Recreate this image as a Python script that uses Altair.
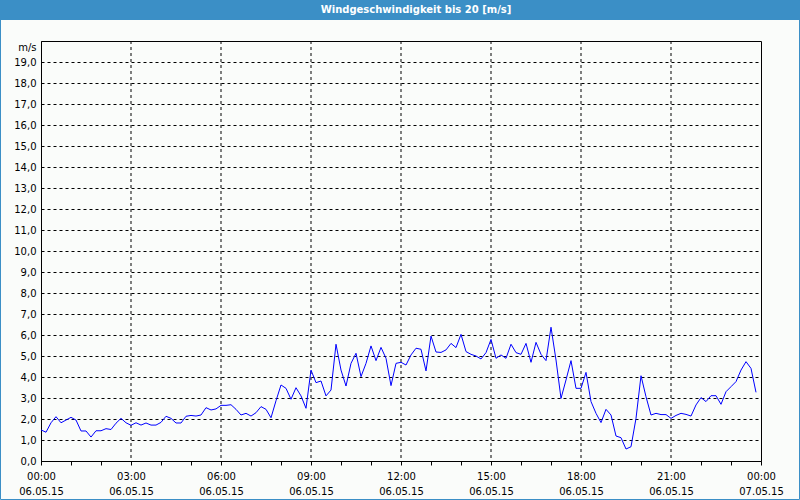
import altair as alt
import pandas as pd

TITLE = "Windgeschwindigkeit bis 20 [m/s]"
UNIT = "m/s"

# wind speed (m/s), one reading every 10 minutes from 06.05.15 00:00 to 23:50
speed_00_06 = [1.48, 1.37, 1.82, 2.11, 1.82, 1.95, 2.08, 1.95, 1.43, 1.43, 1.14, 1.44,
               1.44, 1.54, 1.50, 1.80, 2.03, 1.82, 1.70, 1.82, 1.71, 1.81, 1.71, 1.71,
               1.84, 2.13, 2.03, 1.81, 1.81, 2.13, 2.17, 2.14, 2.19, 2.54, 2.43, 2.48, 2.65]
speed_06_12 = [2.65, 2.68, 2.46, 2.19, 2.27, 2.14, 2.30, 2.59, 2.46, 2.06, 2.87, 3.62,
               3.46, 2.94, 3.49, 3.10, 2.51, 4.33, 3.73, 3.81, 3.10, 3.38, 5.56, 4.33,
               3.57, 4.65, 5.13, 4.02, 4.65, 5.48, 4.78, 5.41, 4.89, 3.59, 4.65, 4.70]
speed_12_18 = [4.57, 5.05, 5.37, 5.32, 4.29, 5.95, 5.19, 5.17, 5.29, 5.60, 5.40, 6.03,
               5.21, 5.08, 5.00, 4.86, 5.16, 5.79, 4.89, 5.05, 4.89, 5.56, 5.16, 5.08,
               5.60, 4.70, 5.65, 5.08, 4.78, 6.37, 4.81, 2.98, 3.86, 4.78, 3.46, 3.46]
speed_18_24 = [4.22, 2.83, 2.27, 1.83, 2.46, 2.19, 1.19, 1.11, 0.57, 0.68, 2.03, 4.06,
               3.06, 2.19, 2.27, 2.21, 2.21, 2.03, 2.17, 2.27, 2.22, 2.14, 2.67, 3.02,
               2.83, 3.11, 3.11, 2.70, 3.30, 3.54, 3.78, 4.33, 4.73, 4.41, 3.27]

speed = speed_00_06 + speed_06_12 + speed_12_18 + speed_18_24
hours = [i * 10 / 60 for i in range(len(speed))]

x_ticks = list(range(0, 25))
x_grid = [3, 6, 9, 12, 15, 18, 21]
y_ticks = list(range(0, 20))

df = pd.DataFrame({"h": hours, "v": speed})
grid_df = pd.DataFrame({"h": x_grid})
title_df = pd.DataFrame({"t": [TITLE]})

W, H = 720, 420
PAD_L, PAD_T = 41, 41
BLUE = "#3b8fc6"

x_scale = alt.Scale(domain=[0, 24], nice=False, zero=False)
y_scale = alt.Scale(domain=[0, 20], nice=False)

x_label_expr = (
    "datum.value % 3 == 0 ? "
    "[(datum.value % 24 < 10 ? '0' : '') + (datum.value % 24) + ':00', "
    "datum.value == 24 ? '07.05.15' : '06.05.15'] : ''"
)
y_label_expr = "replace(format(datum.value, '.1f'), '.', ',')"

x_axis = alt.Axis(
    values=x_ticks,
    labelExpr=x_label_expr,
    grid=False,
    tickSize=4,
    tickColor="black",
    domainColor="black",
    labelPadding=6,
    labelLineHeight=15,
    labelFlush=False,
    labelOverlap=False,
    labelBound=False,
    title=None,
)

grid = alt.Chart(grid_df).mark_rule(color="black", strokeDash=[3, 3], strokeWidth=1).encode(
    x=alt.X("h:Q", scale=x_scale, axis=x_axis)
)

line = alt.Chart(df).mark_line(color="#0000ff", strokeWidth=1).encode(
    x=alt.X("h:Q", scale=x_scale, axis=x_axis),
    y=alt.Y(
        "v:Q",
        scale=y_scale,
        axis=alt.Axis(
            values=y_ticks,
            labelExpr=y_label_expr,
            grid=True,
            gridDash=[3, 3],
            gridColor="black",
            gridOpacity=1,
            ticks=False,
            domainColor="black",
            labelPadding=5,
            labelOverlap=False,
            title=UNIT,
            titleAngle=0,
            titleAlign="right",
            titleBaseline="middle",
            titleX=-5,
            titleY=6,
            titleFont="DejaVu Sans",
            titleFontSize=10,
            titleFontWeight="normal",
            titleColor="black",
        ),
    ),
)

bar = alt.Chart(title_df).mark_rect(color=BLUE, opacity=1).encode(
    x=alt.value(-PAD_L), x2=alt.value(800 - PAD_L),
    y=alt.value(-PAD_T), y2=alt.value(20 - PAD_T),
)

title_text = alt.Chart(title_df).mark_text(
    color="white", font="DejaVu Sans", fontSize=10, fontWeight="bold",
    align="center", baseline="middle",
).encode(
    text="t:N",
    x=alt.value(416 - PAD_L),
    y=alt.value(10 - PAD_T),
)

border = alt.Chart(title_df).mark_rect(fillOpacity=0, stroke=BLUE, strokeWidth=1).encode(
    x=alt.value(-PAD_L + 0.5), x2=alt.value(800 - PAD_L - 0.5),
    y=alt.value(-PAD_T + 0.5), y2=alt.value(500 - PAD_T - 0.5),
)

chart = alt.layer(grid, line, bar, title_text, border).properties(
    width=W,
    height=H,
    background="#fafcfa",
    autosize=alt.AutoSizeParams(type="none"),
    padding={"left": PAD_L, "top": PAD_T, "right": 800 - PAD_L - W, "bottom": 500 - PAD_T - H},
).configure_view(
    stroke="black", strokeWidth=1
).configure_axis(
    labelFont="DejaVu Sans",
    labelFontSize=10,
    labelColor="black",
)

chart.save("out.html", embed_options={"renderer": "svg", "actions": False})
